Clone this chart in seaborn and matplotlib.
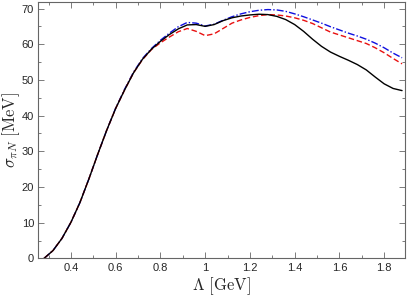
import numpy
import seaborn
import matplotlib
matplotlib.use('Agg')
import matplotlib.pyplot as plt
from matplotlib.ticker import MultipleLocator, FuncFormatter
from pandas import DataFrame

# Lambda cutoff values (GeV)
cutoff = [0.28, 0.32, 0.36, 0.40, 0.44, 0.48, 0.52, 0.56, 0.60, 0.64,
          0.68, 0.72, 0.76, 0.80, 0.84, 0.88, 0.92, 0.96, 1.00, 1.04,
          1.08, 1.12, 1.16, 1.20, 1.24, 1.28, 1.32, 1.36, 1.40, 1.44,
          1.48, 1.52, 1.56, 1.60, 1.64, 1.68, 1.72, 1.76, 1.80, 1.84,
          1.88]

# sigma_piN (MeV) for the three curves
sigma_solid = [0.0, 2.2, 5.6, 10.1, 15.6, 22.2, 29.2, 35.9, 42.0, 47.2,
               52.0, 55.8, 58.6, 60.8, 62.7, 64.3, 65.4, 65.5, 65.0, 65.5,
               66.6, 67.4, 67.9, 68.2, 68.4, 68.3, 67.8, 66.9, 65.5, 63.6,
               61.4, 59.4, 57.8, 56.6, 55.5, 54.3, 52.8, 50.8, 48.9, 47.6,
               47.0]
sigma_dashed = [0.0, 2.2, 5.6, 10.1, 15.6, 22.2, 29.2, 35.9, 42.0, 47.2,
                52.0, 55.7, 58.5, 60.4, 62.0, 63.5, 64.4, 63.6, 62.4, 62.9,
                64.4, 65.9, 66.8, 67.5, 68.0, 68.3, 68.2, 67.9, 67.4, 66.7,
                65.8, 64.6, 63.4, 62.6, 61.8, 61.0, 60.2, 59.0, 57.6, 56.0,
                54.5]
sigma_dashdot = [0.0, 2.2, 5.6, 10.1, 15.6, 22.2, 29.2, 35.9, 42.1, 47.4,
                 52.2, 56.0, 58.8, 61.1, 63.1, 64.9, 66.1, 65.9, 65.1, 65.6,
                 66.7, 67.7, 68.5, 69.1, 69.5, 69.7, 69.6, 69.2, 68.5, 67.7,
                 66.8, 65.9, 64.9, 64.0, 63.1, 62.3, 61.4, 60.3, 59.0, 57.5,
                 56.2]


def create_plot():
    seaborn.set_style('ticks')
    plt.rcParams['mathtext.fontset'] = 'cm'
    plt.rcParams['font.family'] = ['Liberation Sans', 'DejaVu Sans']

    fig = plt.figure(figsize=(4.07, 2.98), dpi=100)
    ax = fig.add_axes([0.094, 0.133, 0.901, 0.860])

    frame = DataFrame({'cutoff': cutoff, 'solid': sigma_solid,
                       'dashed': sigma_dashed, 'dashdot': sigma_dashdot})

    seaborn.lineplot(data=frame, x='cutoff', y='dashdot', ax=ax, color='#1010e0',
                     linewidth=1.0, linestyle=(0, (5, 1.5, 1, 1.5)))
    seaborn.lineplot(data=frame, x='cutoff', y='dashed', ax=ax, color='#e81010',
                     linewidth=1.0, linestyle=(0, (4, 2)))
    seaborn.lineplot(data=frame, x='cutoff', y='solid', ax=ax, color='black',
                     linewidth=1.0)

    ax.set_xlim(0.254, 1.893)
    ax.set_ylim(0, 71.8)
    ax.xaxis.set_major_locator(MultipleLocator(0.2))
    ax.xaxis.set_minor_locator(MultipleLocator(0.1))
    ax.yaxis.set_major_locator(MultipleLocator(10))
    ax.yaxis.set_minor_locator(MultipleLocator(5))
    ax.xaxis.set_major_formatter(FuncFormatter(lambda v, p: ('%g' % round(v, 2))))

    ax.tick_params(which='both', direction='in', top=True, right=True,
                   color='#666666', labelsize=8, width=0.6)
    ax.tick_params(which='major', length=4, pad=3)
    ax.tick_params(which='minor', length=2)
    for side in ax.spines.values():
        side.set_color('#666666')
        side.set_linewidth(0.8)

    ax.set_xlabel(r'$\Lambda\ [\mathrm{GeV}]$', fontsize=12, labelpad=2)
    ax.set_ylabel(r'$\sigma_{\pi N}\ [\mathrm{MeV}]$', fontsize=12)
    ax.yaxis.set_label_coords(-0.045, 0.5)

    fig.savefig('out.png', dpi=100)


if __name__ == '__main__':
    create_plot()
